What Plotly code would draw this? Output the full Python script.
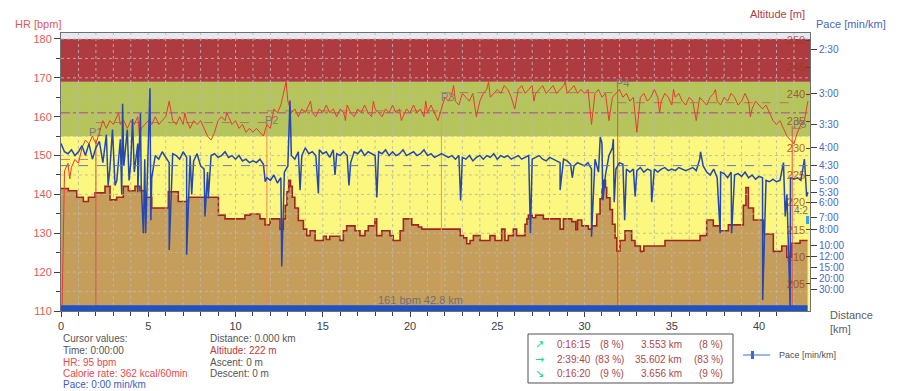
import plotly.graph_objects as go
import numpy as np

FONT = "Liberation Sans, Arial, sans-serif"

# ---------------- data ----------------
# heart rate [bpm], sampled every 0.2 km
hr_bpm = [
    95, 146, 148, 147, 149, 148, 152, 154, 153, 155,
    153, 156, 159, 157, 159, 158, 160, 158, 159, 157,
    159, 158, 160, 157, 158, 159, 158, 160, 158, 159,
    160, 164, 159, 158, 160, 158, 159, 157, 159, 158,
    159, 157, 155, 154, 156, 159, 160, 159, 160, 158,
    159, 157, 158, 156, 157, 156, 157, 156, 155, 158,
    157, 162, 161, 163, 167, 164, 161, 162, 160, 162,
    161, 163, 161, 160, 162, 161, 163, 161, 162, 160,
    162, 161, 163, 161, 160, 162, 161, 163, 161, 160,
    162, 161, 160, 162, 161, 163, 161, 162, 160, 162,
    161, 163, 161, 162, 160, 161, 163, 161, 159, 162,
    165, 164, 166, 164, 163, 166, 165, 164, 166, 160,
    164, 166, 167, 165, 166, 167, 166, 168, 167, 165,
    162, 167, 168, 166, 167, 168, 166, 167, 168, 166,
    167, 168, 166, 167, 168, 166, 167, 168, 166, 167,
    166, 167, 158, 166, 167, 165, 166, 159, 165, 166,
    167, 165, 166, 164, 165, 156, 165, 166, 164, 165,
    167, 165, 164, 166, 165, 163, 165, 166, 164, 163,
    165, 164, 159, 165, 164, 163, 165, 166, 164, 163,
    165, 164, 166, 165, 163, 164, 166, 164, 162, 164,
    163, 162, 163, 161, 159, 158, 159, 157, 155, 154,
    153, 156, 158, 159, 164,
]
hr_extra_km = [0.5, 1.1, 3.3, 4.5, 7.1, 9.5, 12.9, 14.3, 16.3, 17.9,
               19.5, 20.9, 22.5, 24.5, 27.1, 28.9, 34.3, 35.1, 37.5, 39.5]
hr_extra_bpm = [144, 150, 161, 155, 161, 161, 169, 164, 159, 164,
                159, 164, 168, 169, 164, 169, 161, 167, 167, 160]

# pace [min/km], sampled every 0.2 km
pace_min = [
    3.9, 4.1, 4.15, 4.05, 4.2, 4.1, 3.95, 4.2, 3.9, 4.3,
    4.0, 3.85, 4.4, 3.7, 4.6, 4.1, 5.0, 3.8, 4.5, 3.6,
    4.4, 4.7, 3.9, 5.2, 4.3, 3.6, 4.9, 4.2, 4.3, 4.1,
    4.25, 4.4, 4.15, 4.2, 4.3, 4.1, 4.25, 4.2, 4.35, 4.15,
    4.5, 4.6, 4.7, 4.2, 4.15, 4.25, 4.2, 4.1, 4.25, 4.2,
    4.3, 4.2, 4.35, 4.3, 4.4, 4.35, 4.4, 4.3, 4.45, 4.9,
    5.0, 4.8, 5.1, 4.9, 4.7, 4.5, 4.2, 4.3, 4.1, 4.2,
    4.0, 4.15, 4.1, 4.2, 4.05, 4.15, 4.1, 4.25, 4.05, 4.15,
    4.2, 4.1, 4.2, 4.4, 4.1, 4.15, 4.05, 4.2, 4.1, 4.15,
    4.2, 4.1, 4.15, 4.05, 4.2, 4.1, 4.2, 4.15, 4.05, 4.2,
    4.15, 4.1, 4.2, 4.15, 4.05, 4.2, 4.15, 4.25, 4.2, 4.15,
    4.2, 4.25, 4.2, 4.3, 4.2, 4.25, 4.3, 4.2, 4.35, 4.25,
    4.2, 4.3, 4.2, 4.25, 4.15, 4.3, 4.2, 4.25, 4.2, 4.3,
    4.25, 4.2, 4.3, 4.25, 4.2, 4.3, 4.25, 4.2, 4.3, 4.35,
    4.25, 4.3, 4.35, 4.4, 4.3, 4.35, 4.45, 4.5, 4.4, 4.45,
    4.5, 4.4, 4.6, 4.3, 4.7, 3.9, 4.8, 4.2, 4.0, 4.6,
    4.4, 4.45, 4.6, 4.7, 4.6, 4.65, 4.55, 4.7, 4.6, 4.65,
    4.6, 4.7, 4.6, 4.55, 4.65, 4.6, 4.65, 4.55, 4.6, 4.65,
    4.6, 4.55, 4.65, 4.3, 4.5, 4.7, 4.8, 4.6, 4.9, 4.7,
    4.75, 4.9, 4.7, 4.8, 4.75, 4.85, 4.7, 4.9, 4.8, 4.95,
    4.85, 4.9, 5.0, 5.05, 4.95, 5.05, 5.0, 4.4, 5.6, 4.9,
    4.95, 4.9, 5.0, 4.3, 5.5,
]
pace_spike_km = [2.7, 2.95, 3.1, 3.48, 3.53, 3.9, 4.1, 4.4, 4.55, 4.72,
                 4.85, 5.1, 5.15, 6.2, 6.35, 7.2, 7.49, 8.25, 8.44, 11.7,
                 12.65, 13.12, 13.7, 14.75, 15.7, 16.5, 18.1, 22.9, 26.9, 28.6,
                 29.3, 30.4, 30.9, 31.05, 31.65, 31.7, 32.3, 32.9, 33.85, 36.65,
                 37.77, 38.43, 40.21, 41.5, 41.78, 42.73]
pace_spike_min = [5.2, 3.6, 5.2, 5.6, 3.15, 5.0, 3.4, 5.5, 3.3, 8.4,
                  8.4, 2.93, 7.2, 10.7, 5.0, 11.6, 5.6, 6.9, 5.8, 5.05,
                  14.7, 3.1, 5.4, 5.55, 4.8, 5.2, 5.75, 5.9, 8.4, 5.4,
                  4.9, 8.8, 3.75, 5.9, 3.8, 6.0, 7.2, 5.7, 6.0, 4.1,
                  8.4, 8.4, 60, 6.9, 150, 5.7]

# altitude [m] (step profile)
alt_km = [0.0, 0.42, 0.9, 1.28, 1.57, 1.95, 2.52, 2.81, 3.19, 3.57,
          3.86, 4.24, 4.53, 4.81, 5.2, 6.15, 6.72, 7.3, 9.02, 9.4,
          10.54, 10.83, 11.4, 11.69, 11.98, 12.55, 12.74, 12.85, 12.95, 13.05,
          13.15, 13.25, 13.4, 13.6, 13.89, 14.08, 14.27, 14.56, 15.03, 15.2,
          15.4, 15.99, 16.18, 16.37, 16.85, 17.13, 17.42, 17.61, 17.99, 18.09,
          18.38, 18.85, 19.04, 19.43, 19.62, 20.1, 20.48, 20.67, 22.87, 23.06,
          23.25, 23.44, 23.63, 24.01, 24.58, 24.87, 25.25, 25.44, 25.63, 25.92,
          26.11, 26.59, 26.7, 26.78, 27.0, 27.2, 27.64, 28.6, 28.79, 29.27,
          29.5, 29.6, 29.84, 30.22, 30.41, 30.7, 30.89, 31.0, 31.08, 31.2,
          31.27, 31.46, 31.6, 31.75, 31.85, 32.03, 32.32, 32.7, 32.89, 33.2,
          33.4, 34.61, 36.62, 37.0, 37.38, 37.77, 38.24, 39.1, 39.25, 39.39,
          39.68, 40.25, 40.82, 41.3, 41.59, 41.87, 42.35, 42.78]
alt_m = [222.6, 222.2, 221.0, 220.2, 221.0, 221.8, 223.0, 220.5, 221.0, 223.0,
         222.2, 223.0, 222.2, 221.0, 219.0, 222.0, 220.2, 221.0, 217.7, 217.0,
         217.7, 217.9, 217.0, 215.9, 217.0, 215.1, 217.0, 219.5, 222.0, 224.1,
         223.0, 221.0, 219.0, 216.7, 215.1, 213.9, 214.8, 213.0, 213.8, 213.2,
         213.8, 213.0, 214.8, 215.7, 214.8, 213.9, 214.8, 215.7, 217.0, 213.9,
         214.8, 213.9, 213.0, 214.8, 217.0, 215.9, 215.5, 215.1, 213.9, 213.5,
         212.4, 213.0, 213.9, 213.0, 213.9, 213.0, 215.1, 213.0, 213.9, 215.1,
         213.9, 216.0, 217.0, 217.7, 217.2, 217.7, 217.0, 215.1, 217.0, 216.5,
         215.0, 216.8, 215.7, 215.1, 215.7, 217.9, 220.7, 222.5, 224.1, 222.8,
         220.9, 218.7, 216.0, 213.5, 211.1, 213.0, 214.8, 213.0, 212.0, 211.0,
         212.0, 213.0, 213.9, 216.8, 215.7, 214.8, 215.9, 219.5, 222.8, 219.0,
         216.8, 214.2, 211.0, 212.0, 209.9, 212.5, 213.0, 213.0]

# markers (laps)
marker_names = ["P1", "P2", "P3", "P4", "P5"]
marker_km = [2.0, 11.8, 21.8, 31.9, 41.9]
marker_hr_top = [154.2, 158.9, 163.7, 167.9, 157.6]
marker_label_km = [1.95, 12.07, 22.12, 32.2, 42.3]
marker_label_hr = [156.1, 159.1, 165.0, 168.8, 158.0]
marker_colors = ["#E24A40", "#F08848", "#F09858", "#E25048", "#E25048"]

seg_km = [0.0, 2.0, 11.8, 21.8, 31.9, 41.9, 42.78]
seg_hr_avg = [149, 158.5, 161.5, 166.2, 163.6, 157]
avg_hr = 161
avg_pace_min = 4.49
total_km = 42.78

# HR zones
zone_lo = [110, 155, 169]
zone_hi = [155, 169, 180]
zone_col = ["#FCF77F", "#B6C45C", "#AE3B40"]

pace_tick_min = [2.5, 3, 3.5, 4, 4.5, 5, 5.5, 6, 7, 8, 10, 12, 15, 20, 30]
pace_tick_txt = ["2:30", "3:00", "3:30", "4:00", "4:30", "5:00", "5:30", "6:00",
                 "7:00", "8:00", "10:00", "12:00", "15:00", "20:00", "30:00"]
alt_ticks = [205, 210, 215, 220, 225, 230, 235, 240, 245, 250]

summary_arrows = ["\u2197", "\u2192", "\u2198"]
summary_time = ["0:16:15", "2:39:40", "0:16:20"]
summary_tpct = ["(8 %)", "(83 %)", "(9 %)"]
summary_dist = ["3.553 km", "35.602 km", "3.656 km"]
summary_dpct = ["(8 %)", "(83 %)", "(9 %)"]

# ---------------- geometry ----------------
X_RANGE = [0, 42.92]
HR_RANGE = [110, 181.54]
ALT_RANGE = [200.0, 251.3]
SPD_RANGE = [0, 25.55]
L, R, T, B = 61, 810, 33, 311
W, H = 900, 391


def px(xp):
    return (xp - L) / (R - L)


def py(yp):
    return (B - yp) / (B - T)


# merge series
hk = [round(0.2 * i, 1) for i in range(len(hr_bpm))] + hr_extra_km
hv = hr_bpm + hr_extra_bpm
o = np.argsort(hk, kind="stable")
hr_x = [hk[i] for i in o]
hr_y = [hv[i] for i in o]

pk = [round(0.2 * i, 1) for i in range(len(pace_min))] + pace_spike_km
pv = pace_min + pace_spike_min
o = np.argsort(pk, kind="stable")
pace_x = [pk[i] for i in o]
speed_y = [60.0 / pv[i] for i in o]

fig = go.Figure()

# altitude profile
fig.add_trace(go.Scatter(x=alt_km, y=alt_m, yaxis="y2", mode="lines",
                         line=dict(color="#A0251F", width=1.6, shape="hv"),
                         fill="tozeroy", fillcolor="#C69E5C", hoverinfo="skip"))

# grid (drawn over the altitude fill)
gx, gy = [], []
for k in range(1, 43):
    gx += [k, k, None]
    gy += [HR_RANGE[0], HR_RANGE[1], None]
for v in range(115, 181, 5):
    gx += [X_RANGE[0], X_RANGE[1], None]
    gy += [v, v, None]
fig.add_trace(go.Scatter(x=gx, y=gy, yaxis="y3", mode="lines",
                         line=dict(color="rgba(185,185,185,0.85)", width=1, dash="dot"),
                         hoverinfo="skip"))

# segment HR averages
for i in range(len(seg_hr_avg)):
    fig.add_trace(go.Scatter(x=[seg_km[i], seg_km[i + 1]], y=[seg_hr_avg[i]] * 2, yaxis="y3",
                             mode="lines", line=dict(color="rgba(170,95,110,0.75)", width=1, dash="dash"),
                             hoverinfo="skip"))
# overall HR average
fig.add_trace(go.Scatter(x=[0, total_km], y=[avg_hr, avg_hr], yaxis="y3", mode="lines",
                         line=dict(color="#B46A92", width=1.5, dash="dashdot"), hoverinfo="skip"))

# marker lines
for i in range(len(marker_km)):
    fig.add_trace(go.Scatter(x=[marker_km[i], marker_km[i]], y=[110, marker_hr_top[i]], yaxis="y3",
                             mode="lines", line=dict(color=marker_colors[i], width=1), hoverinfo="skip"))

# HR line
fig.add_trace(go.Scatter(x=hr_x, y=hr_y, yaxis="y3", mode="lines",
                         line=dict(color="#E83A30", width=1), hoverinfo="skip"))

# pace line
fig.add_trace(go.Scatter(x=pace_x, y=speed_y, yaxis="y4", mode="lines",
                         line=dict(color="#2448B0", width=1.5), hoverinfo="skip"))
fig.add_trace(go.Scatter(x=[0, total_km], y=[60 / avg_pace_min] * 2, yaxis="y4", mode="lines",
                         line=dict(color="#5A7AD8", width=1, dash="dash"), hoverinfo="skip"))

# zones
shapes = []
for lo, hi, c in zip(zone_lo, zone_hi, zone_col):
    shapes.append(dict(type="rect", xref="paper", yref="y", x0=0, x1=1, y0=lo, y1=hi,
                       fillcolor=c, line=dict(width=0), layer="below"))
# bottom blue band
shapes.append(dict(type="rect", xref="x", yref="paper", x0=0, x1=total_km, y0=0, y1=py(305.3),
                   fillcolor="#2152C4", line=dict(width=0), layer="above"))
# small cursor marker
shapes.append(dict(type="rect", xref="paper", yref="paper", x0=px(806), x1=px(809), y0=py(224), y1=py(216),
                   fillcolor="#3AA0E8", line=dict(width=0), layer="above"))
# summary box
shapes.append(dict(type="rect", xref="paper", yref="paper", x0=px(528), x1=px(733), y0=py(383), y1=py(334),
                   fillcolor="white", line=dict(color="#505050", width=1)))
# pace legend sample
shapes.append(dict(type="line", xref="paper", yref="paper", x0=px(743), x1=px(770), y0=py(355), y1=py(355),
                   line=dict(color="#3A6CD0", width=1)))
shapes.append(dict(type="rect", xref="paper", yref="paper", x0=px(751), x1=px(754), y0=py(359), y1=py(351),
                   fillcolor="#3A6CD0", line=dict(width=0)))

ann = []


def add_text(text, xp, yp, color, size=10, xanchor="left", family=FONT):
    ann.append(dict(text=text, x=px(xp), y=py(yp), xref="paper", yref="paper", showarrow=False,
                    xanchor=xanchor, yanchor="middle", font=dict(family=family, size=size, color=color)))


add_text("HR [bpm]", 63, 24, "#E05A5A", 11, "right")
add_text("Altitude [m]", 807, 14, "#B04040", 11, "right")
add_text("Pace [min/km]", 814, 24, "#4A68C0", 11, "left")
add_text("Distance", 828, 315, "#606060", 11)
add_text("[km]", 828, 329, "#606060", 11)

add_text("Cursor values:", 61, 338, "#555555")
add_text("Time: 0:00:00", 61, 350, "#555555")
add_text("HR: 95 bpm", 61, 362, "#E84848")
add_text("Calorie rate: 362 kcal/60min", 61, 373, "#E84848")
add_text("Pace: 0:00 min/km", 61, 384, "#3A5CC0")
add_text("Distance: 0.000 km", 208, 338, "#555555")
add_text("Altitude: 222 m", 208, 350, "#C03A3A")
add_text("Ascent: 0 m", 208, 362, "#555555")
add_text("Descent: 0 m", 208, 373, "#555555")

rows_y = [344.5, 359, 373]
for i in range(3):
    add_text(summary_arrows[i], 539, rows_y[i], "#28D488", 11, "center", "DejaVu Sans")
    add_text(summary_time[i], 555, rows_y[i], "#B04848")
    add_text(summary_tpct[i], 626, rows_y[i], "#B04848", 10, "right")
    add_text(summary_dist[i], 684, rows_y[i], "#B04848", 10, "right")
    add_text(summary_dpct[i], 725, rows_y[i], "#B04848", 10, "right")

add_text("Pace [min/km]", 777, 355, "#505050", 9)
add_text("161 bpm 42.8 km", 420, 300, "#707070", 11, "center")
add_text("4:2", 792, 210, "#707070", 10, "left")

for i in range(len(marker_names)):
    ann.append(dict(text=marker_names[i], x=marker_label_km[i], y=marker_label_hr[i], xref="x", yref="y",
                    showarrow=False, xanchor="center", yanchor="middle",
                    font=dict(family=FONT, size=11, color="#7A7A7A")))

fig.update_layout(
    width=W, height=H, autosize=False,
    margin=dict(l=L, r=W - R, t=T, b=H - B, pad=0),
    paper_bgcolor="white", plot_bgcolor="#E5EAF1",
    showlegend=False,
    font=dict(family=FONT, size=11, color="#404040"),
    shapes=shapes, annotations=ann,
    xaxis=dict(range=X_RANGE, showgrid=False, zeroline=False, showline=True, mirror=True,
               linecolor="#707070", linewidth=1, ticks="outside", ticklen=5, tickcolor="#404040",
               tick0=0, dtick=5, tickfont=dict(size=11, color="#404040"),
               minor=dict(dtick=1, ticks="outside", ticklen=4, tickcolor="#404040", showgrid=False)),
    yaxis=dict(range=HR_RANGE, showgrid=False, zeroline=False, showline=True, mirror=True,
               linecolor="#707070", linewidth=1, ticks="outside", ticklen=6, tickcolor="#404040",
               tick0=110, dtick=10, tickfont=dict(size=11, color="#E05A5A"),
               minor=dict(dtick=5, ticks="outside", ticklen=4, tickcolor="#404040", showgrid=False)),
    yaxis2=dict(range=ALT_RANGE, overlaying="y", side="right", anchor="x", showgrid=False,
                zeroline=False, showline=False, tickmode="array", tickvals=alt_ticks,
                ticks="inside", ticklen=4, tickcolor="#6A3A20", ticklabelposition="inside",
                tickfont=dict(size=11, color="rgba(150,62,30,0.8)")),
    yaxis3=dict(range=HR_RANGE, overlaying="y", visible=False),
    yaxis4=dict(range=SPD_RANGE, overlaying="y", side="right", anchor="x", showgrid=False,
                zeroline=False, showline=False, tickmode="array",
                tickvals=[60.0 / p for p in pace_tick_min], ticktext=pace_tick_txt,
                ticks="outside", ticklen=6, tickcolor="#404040",
                tickfont=dict(size=10, color="#4A68C0")),
)

fig.write_html("out.html", config={"displayModeBar": False},
               post_script="document.body.style.margin='0';")
